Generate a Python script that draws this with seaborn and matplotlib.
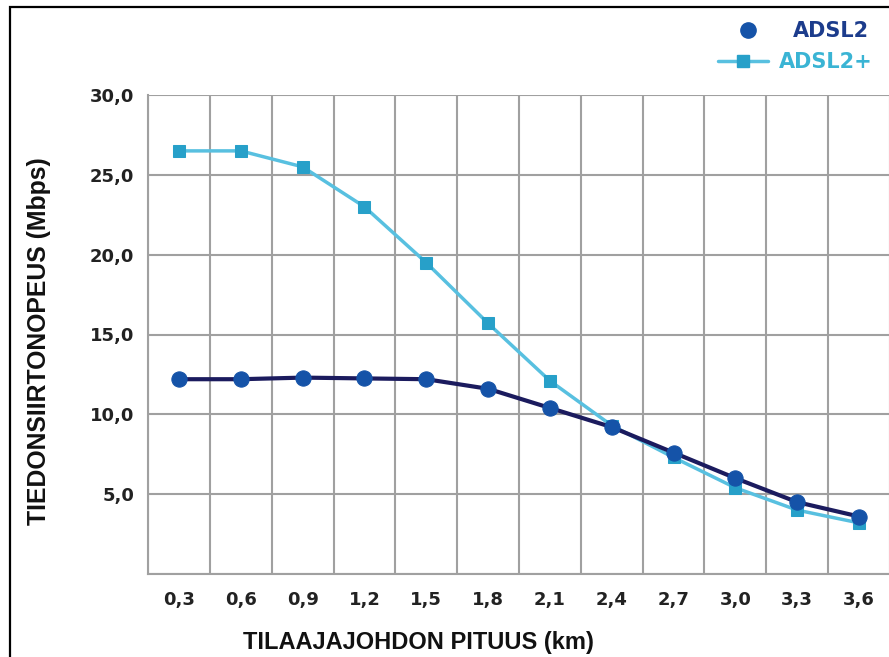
import numpy as np
import pandas as pd
import matplotlib
matplotlib.use("Agg")
import matplotlib.pyplot as plt
import seaborn as sns
from matplotlib.ticker import FixedLocator
from matplotlib.lines import Line2D
from matplotlib.patches import Rectangle

# ---- data ----
distance_labels = ["0,3", "0,6", "0,9", "1,2", "1,5", "1,8", "2,1", "2,4", "2,7", "3,0", "3,3", "3,6"]
adsl2 = [12.2, 12.2, 12.3, 12.25, 12.2, 11.6, 10.4, 9.2, 7.6, 6.0, 4.5, 3.6]
adsl2_plus = [26.5, 26.5, 25.5, 23.0, 19.5, 15.7, 12.1, 9.3, 7.3, 5.4, 4.0, 3.2]
y_ticks = [0, 5, 10, 15, 20, 25, 30]
y_tick_labels = ["", "5,0", "10,0", "15,0", "20,0", "25,0", "30,0"]
series_names = ["ADSL2", "ADSL2+"]

df = pd.DataFrame({"distance": distance_labels, "adsl2": adsl2, "adsl2_plus": adsl2_plus})

sns.set_style("white")
plt.rcParams["font.family"] = ["DejaVu Sans"]

W, H = 889, 657
fig = plt.figure(figsize=(W / 100, H / 100), dpi=100)
fig.patch.set_facecolor("white")
ax = fig.add_axes([148 / W, (H - 574) / H, (890 - 148) / W, (574 - 95) / H])

grid_c = "#a0a0a0"
c2_line, c2_mark = "#1b1b5e", "#1553a8"
cp_line, cp_mark = "#58c0e0", "#27a0c9"

sns.lineplot(data=df, x="distance", y="adsl2_plus", sort=False, ax=ax, color=cp_line,
             lw=2.5, marker="s", markersize=9, markerfacecolor=cp_mark,
             markeredgecolor=cp_mark, legend=False, zorder=3)
sns.lineplot(data=df, x="distance", y="adsl2", sort=False, ax=ax, color=c2_line,
             lw=3, marker="o", markersize=11, markerfacecolor=c2_mark,
             markeredgecolor=c2_mark, legend=False, zorder=4)

n = len(distance_labels)
ax.set_xlim(-0.5, n - 0.5)
ax.set_ylim(0, 30)
ax.set_xticks(range(n))
ax.set_xticklabels(distance_labels)
ax.xaxis.set_minor_locator(FixedLocator(np.arange(-0.5, n, 1.0)))
ax.set_yticks(y_ticks)
ax.set_yticklabels(y_tick_labels)

ax.grid(axis="y", which="major", color=grid_c, lw=1.5)
ax.grid(axis="x", which="minor", color=grid_c, lw=1.5)
ax.grid(axis="x", which="major", visible=False)
ax.set_axisbelow(True)

for s in ["top", "right"]:
    ax.spines[s].set_visible(False)
for s in ["left", "bottom"]:
    ax.spines[s].set_color(grid_c)
    ax.spines[s].set_linewidth(1.5)

ax.tick_params(axis="x", which="major", length=0, pad=12, labelsize=13, labelcolor="#222222")
ax.tick_params(axis="x", which="minor", length=4, width=1.5, color=grid_c, direction="out")
ax.tick_params(axis="y", which="major", length=4, width=1.5, color=grid_c, pad=6,
               labelsize=13, labelcolor="#222222")
for t in ax.get_xticklabels() + ax.get_yticklabels():
    t.set_fontweight("bold")

lab_font = dict(family=["Liberation Sans", "DejaVu Sans"], weight="bold", size=17, color="#111111")
ax.set_ylabel("TIEDONSIIRTONOPEUS (Mbps)", family=["Liberation Sans", "DejaVu Sans"],
              weight="bold", size=17.8, color="#111111")
ax.yaxis.label.set_va("center")
ax.yaxis.set_label_coords((39 - 148) / 742, (574 - 341) / 479)
ax.set_xlabel("TILAAJAJOHDON PITUUS (km)", **lab_font)
ax.xaxis.label.set_va("center")
ax.xaxis.set_label_coords((418 - 148) / 742, (574 - 642) / 479)

leg_prop = dict(family="DejaVu Sans", weight="bold", size=15)
h_adsl2 = Line2D([], [], ls="none", marker="o", markersize=11,
                 markerfacecolor=c2_mark, markeredgecolor=c2_mark)
h_plus = Line2D([], [], color=cp_line, lw=2.5, marker="s", markersize=9,
                markerfacecolor=cp_mark, markeredgecolor=cp_mark)
fig.legend([h_adsl2], [series_names[0]], loc="center left",
           bbox_to_anchor=(726 / W, 1 - 31 / H), frameon=False, borderpad=0,
           borderaxespad=0, handlelength=2.07, handletextpad=1.15,
           prop=leg_prop, labelcolor=["#1c3c8c"])
fig.legend([h_plus], [series_names[1]], loc="center left",
           bbox_to_anchor=(718 / W, 1 - 62 / H), frameon=False, borderpad=0,
           borderaxespad=0, handlelength=2.4, handletextpad=0.53,
           prop=leg_prop, labelcolor=["#3ab4d4"])

fig.add_artist(Rectangle((10 / W, -0.05), 1.2, (H - 7) / H + 0.05, transform=fig.transFigure,
                         fill=False, ec="black", lw=1.6))

fig.savefig("out.png", dpi=100, facecolor="white")
